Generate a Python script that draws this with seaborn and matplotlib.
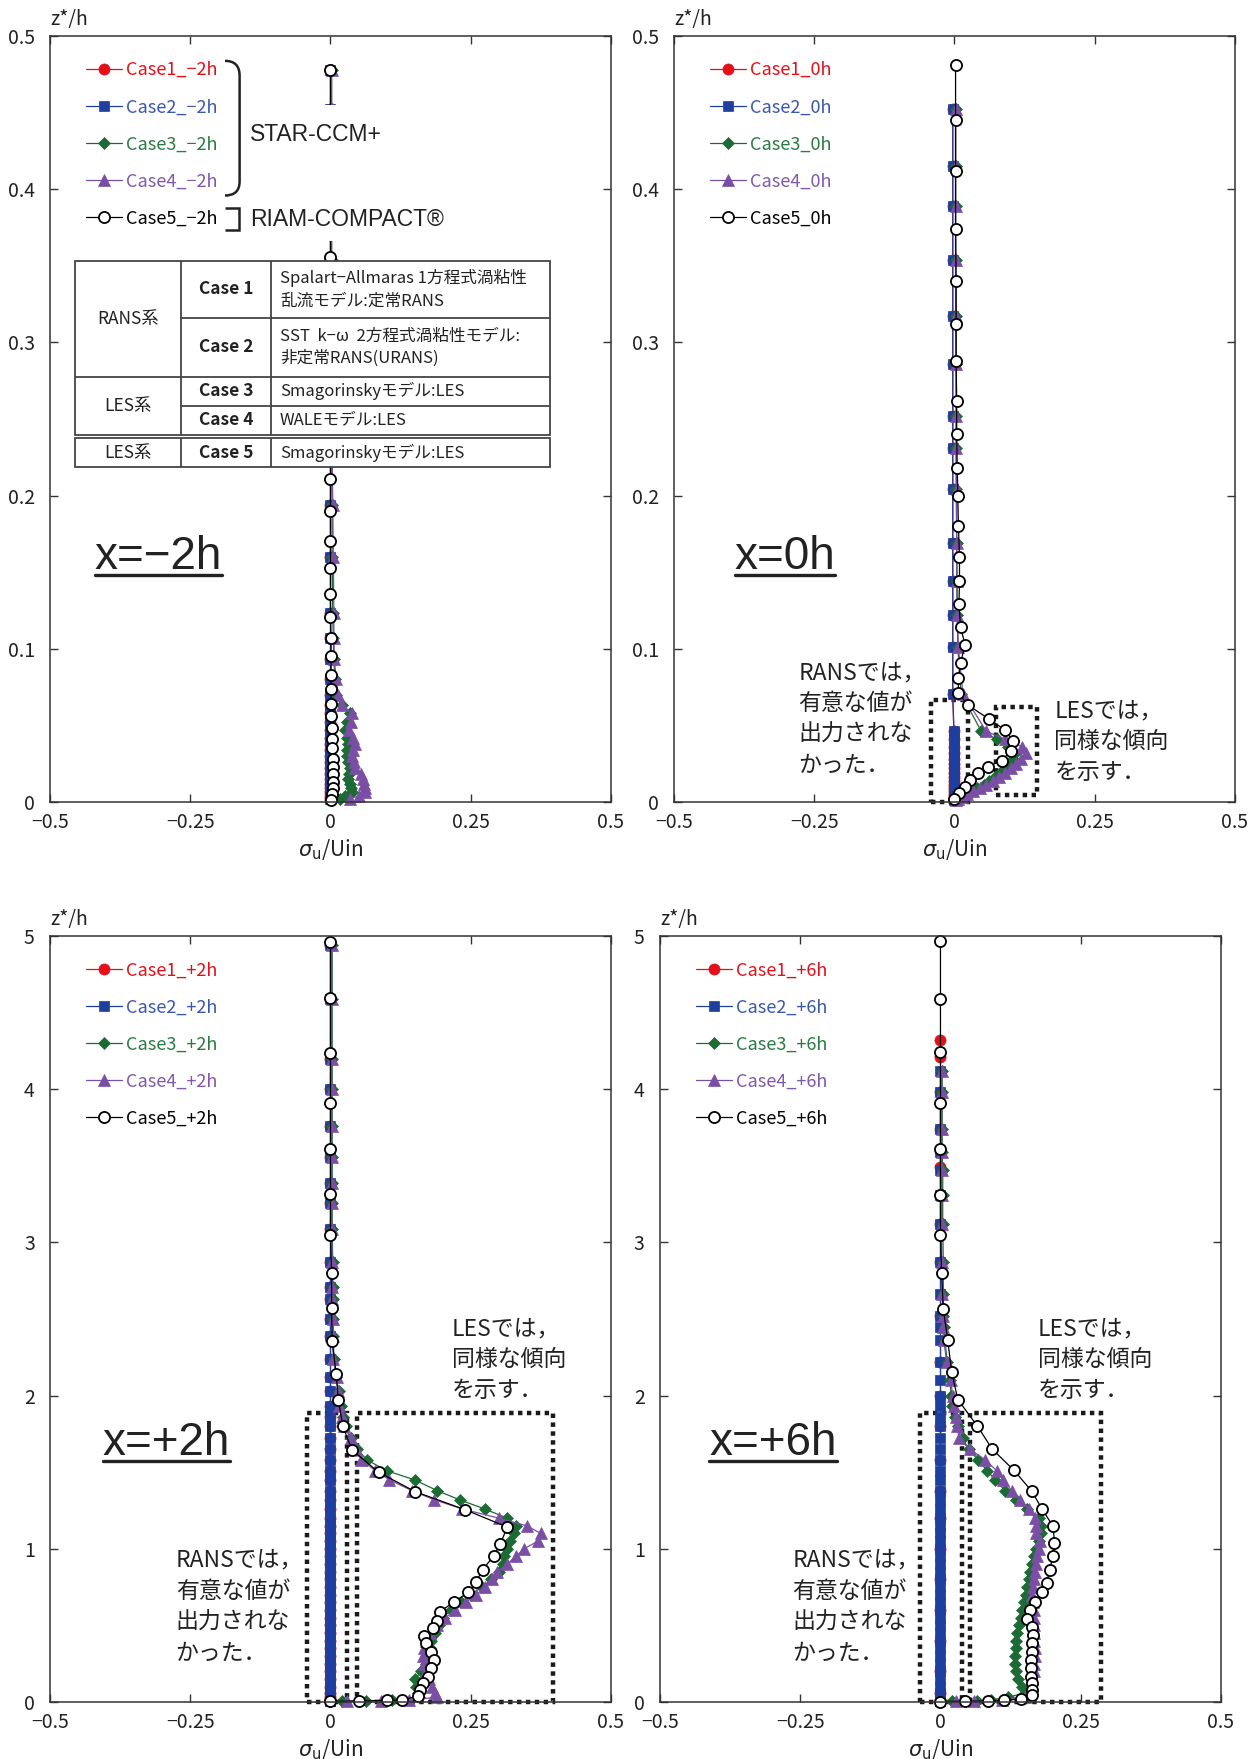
import matplotlib
matplotlib.use("Agg")
import matplotlib.pyplot as plt
import seaborn as sns
from matplotlib.lines import Line2D
from matplotlib.patches import Rectangle, PathPatch
from matplotlib.path import Path

# ---------------- x = -2h  (z*/h 0 .. 0.5) ----------------
z_star_m2 = [0.478, 0.452, 0.415, 0.389, 0.354, 0.317, 0.286, 0.252, 0.231, 0.194,
             0.16, 0.123, 0.107, 0.093, 0.08, 0.07, 0.063, 0.058, 0.052, 0.047,
             0.042, 0.038, 0.034, 0.03, 0.026, 0.022, 0.018, 0.015, 0.012, 0.009,
             0.0065, 0.004, 0.002]
c2_m2 = [0.0, 0.0, 0.0, 0.0, 0.0, 0.0, 0.0, 0.0, 0.0, 0.0,
         0.0, 0.0, 0.0, 0.0, 0.0, 0.0, 0.0, 0.0, 0.0, 0.0,
         0.0, 0.0, 0.0, 0.0, 0.0, 0.0, 0.0, 0.0, 0.0, 0.0,
         0.0, 0.0, 0.0]
c1_m2 = list(c2_m2)  # steady RANS lies under case 2
c3_m2 = [0.002, 0.002, 0.002, 0.002, 0.002, 0.002, 0.002, 0.002, 0.002, 0.003,
         0.003, 0.004, 0.005, 0.006, 0.008, 0.01, 0.02, 0.035, 0.03, 0.026,
         0.03, 0.032, 0.03, 0.029, 0.032, 0.035, 0.033, 0.032, 0.034, 0.036,
         0.038, 0.025, 0.017]
c4_m2 = [0.002, 0.002, 0.002, 0.002, 0.002, 0.002, 0.002, 0.003, 0.003, 0.004,
         0.005, 0.006, 0.006, 0.007, 0.01, 0.014, 0.02, 0.038, 0.036, 0.033,
         0.04, 0.044, 0.04, 0.038, 0.042, 0.044, 0.055, 0.058, 0.06, 0.062,
         0.062, 0.05, 0.035]
z_riam_m2 = [0.478, 0.44, 0.40, 0.356, 0.32, 0.29, 0.26, 0.235, 0.211, 0.19,
             0.17, 0.153, 0.136, 0.121, 0.107, 0.095, 0.083, 0.074, 0.064, 0.056,
             0.048, 0.041, 0.035, 0.028, 0.023, 0.018, 0.013, 0.009, 0.005, 0.001]
c5_m2 = [0.0, 0.0, 0.0, 0.0, 0.0, 0.0, 0.0, 0.0, 0.0, 0.0,
         0.0, 0.0, 0.0, 0.0, 0.001, 0.001, 0.001, 0.001, 0.001, 0.001,
         0.002, 0.003, 0.003, 0.004, 0.004, 0.005, 0.005, 0.004, 0.003, 0.001]

# ---------------- x = 0h  (z*/h 0 .. 0.5) ----------------
z_star_0 = [0.452, 0.415, 0.389, 0.354, 0.317, 0.286, 0.252, 0.231, 0.204, 0.169,
            0.144, 0.122, 0.101, 0.0705, 0.046, 0.041, 0.036, 0.032, 0.028, 0.025,
            0.022, 0.019, 0.016, 0.0135, 0.011, 0.009, 0.007, 0.005, 0.0035, 0.002,
            0.001]
c2_0 = [-0.003, -0.003, -0.003, -0.003, -0.003, -0.003, -0.003, -0.003, -0.003, -0.003,
        -0.003, -0.003, -0.003, -0.003, -0.001, -0.001, -0.001, -0.001, -0.001, -0.001,
        -0.001, -0.001, -0.001, -0.001, -0.001, -0.001, -0.001, -0.001, -0.001, -0.001,
        -0.001]
c1_0 = list(c2_0)
c3_0 = [0.002, 0.002, 0.002, 0.002, 0.002, 0.003, 0.003, 0.003, 0.003, 0.004,
        0.004, 0.005, 0.006, 0.012, 0.048, 0.075, 0.095, 0.108, 0.104, 0.10,
        0.09, 0.082, 0.073, 0.062, 0.052, 0.04, 0.03, 0.02, 0.012, 0.006,
        0.002]
c4_0 = [0.002, 0.002, 0.002, 0.002, 0.003, 0.003, 0.003, 0.003, 0.004, 0.004,
        0.005, 0.005, 0.007, 0.015, 0.057, 0.09, 0.12, 0.128, 0.118, 0.11,
        0.1, 0.09, 0.08, 0.069, 0.056, 0.045, 0.033, 0.022, 0.013, 0.007,
        0.002]
z_riam_0 = [0.481, 0.445, 0.412, 0.374, 0.34, 0.312, 0.288, 0.262, 0.24, 0.218,
            0.2, 0.18, 0.16, 0.144, 0.129, 0.114, 0.1025, 0.091, 0.081, 0.071,
            0.063, 0.054, 0.047, 0.040, 0.033, 0.027, 0.023, 0.019, 0.014, 0.010,
            0.0057, 0.0018]
c5_0 = [0.002, 0.002, 0.002, 0.002, 0.003, 0.003, 0.003, 0.004, 0.004, 0.005,
        0.006, 0.007, 0.009, 0.009, 0.008, 0.011, 0.019, 0.011, 0.007, 0.007,
        0.025, 0.062, 0.09, 0.104, 0.10, 0.084, 0.06, 0.042, 0.027, 0.018,
        0.009, 0.0]

# ---------------- x = +2h  (z*/h 0 .. 5) ----------------
z_star_2 = [4.94, 4.59, 4.2, 4.0, 3.76, 3.56, 3.39, 3.26, 3.085, 2.87,
            2.71, 2.63, 2.5, 2.39, 2.24, 2.12, 2.03, 1.93, 1.86, 1.8,
            1.72, 1.65, 1.58, 1.51, 1.45, 1.38, 1.32, 1.26, 1.2, 1.15,
            1.1, 1.05, 1.0, 0.95, 0.9, 0.85, 0.8, 0.75, 0.7, 0.65,
            0.6, 0.55, 0.5, 0.45, 0.4, 0.35, 0.3, 0.25, 0.2, 0.15,
            0.1, 0.06, 0.03, 0.015, 0.008, 0.004]
c2_2 = [0.0, 0.0, 0.0, 0.0, 0.0, 0.0, 0.0, 0.0, 0.0, 0.0,
        0.0, 0.0, 0.0, 0.0, 0.0, 0.0, 0.0, 0.0, 0.0, 0.0,
        0.0, 0.0, 0.0, 0.0, 0.0, 0.0, 0.0, 0.0, 0.0, 0.0,
        0.0, 0.0, 0.0, 0.0, 0.0, 0.0, 0.0, 0.0, 0.0, 0.0,
        0.0, 0.0, 0.0, 0.0, 0.0, 0.0, 0.0, 0.0, 0.0, 0.0,
        0.0, 0.0, 0.0, 0.0, 0.0, 0.0]
c1_2 = list(c2_2)
c3_2 = [0.003, 0.003, 0.003, 0.003, 0.003, 0.003, 0.003, 0.003, 0.003, 0.004,
        0.004, 0.004, 0.005, 0.005, 0.006, 0.01, 0.015, 0.018, 0.022, 0.028,
        0.036, 0.048, 0.065, 0.1, 0.15, 0.19, 0.23, 0.275, 0.315, 0.33,
        0.328, 0.32, 0.315, 0.31, 0.307, 0.3, 0.287, 0.27, 0.25, 0.232,
        0.215, 0.2, 0.193, 0.187, 0.18, 0.177, 0.174, 0.17, 0.162, 0.15,
        0.153, 0.156, 0.158, 0.11, 0.064, 0.02]
c4_2 = [0.002, 0.002, 0.002, 0.002, 0.002, 0.002, 0.002, 0.002, 0.002, 0.003,
        0.003, 0.003, 0.004, 0.004, 0.005, 0.011, 0.013, 0.015, 0.02, 0.024,
        0.036, 0.045, 0.055, 0.08, 0.105, 0.145, 0.185, 0.235, 0.3, 0.35,
        0.375, 0.37, 0.345, 0.33, 0.315, 0.297, 0.288, 0.275, 0.26, 0.241,
        0.222, 0.205, 0.19, 0.178, 0.171, 0.167, 0.165, 0.166, 0.17, 0.175,
        0.181, 0.186, 0.19, 0.14, 0.09, 0.03]
z_riam_2 = [4.963, 4.595, 4.235, 3.913, 3.608, 3.314, 3.046, 2.80, 2.569, 2.355,
            2.144, 1.974, 1.80, 1.647, 1.499, 1.373, 1.255, 1.142, 1.033, 0.954,
            0.863, 0.786, 0.717, 0.652, 0.59, 0.53, 0.481, 0.431, 0.385, 0.329,
            0.275, 0.22, 0.165, 0.122, 0.078, 0.039, 0.013, 0.01, 0.007, 0.004]
c5_2 = [0.0, 0.0, 0.0, 0.0, 0.0, 0.0, 0.0, 0.002, 0.002, 0.003,
        0.01, 0.014, 0.022, 0.038, 0.086, 0.151, 0.24, 0.315, 0.303, 0.291,
        0.271, 0.26, 0.246, 0.22, 0.195, 0.19, 0.183, 0.167, 0.17, 0.18,
        0.184, 0.18, 0.174, 0.165, 0.159, 0.156, 0.127, 0.1, 0.051, 0.0]

# ---------------- x = +6h  (z*/h 0 .. 5) ----------------
z_star_6 = [4.12, 3.98, 3.74, 3.59, 3.47, 3.31, 3.12, 2.87, 2.66, 2.52,
            2.45, 2.36, 2.22, 2.1, 2.0, 1.93, 1.86, 1.8, 1.72, 1.65,
            1.58, 1.51, 1.45, 1.38, 1.32, 1.26, 1.2, 1.15, 1.1, 1.05,
            1.0, 0.95, 0.9, 0.85, 0.8, 0.75, 0.7, 0.65, 0.6, 0.55,
            0.5, 0.45, 0.4, 0.35, 0.3, 0.25, 0.2, 0.15, 0.1, 0.06,
            0.03, 0.015, 0.008, 0.004]
c2_6 = [0.0, 0.0, 0.0, 0.0, 0.0, 0.0, 0.0, 0.0, 0.0, 0.0,
        0.0, 0.0, 0.0, 0.0, 0.0, 0.0, 0.0, 0.0, 0.0, 0.0,
        0.0, 0.0, 0.0, 0.0, 0.0, 0.0, 0.0, 0.0, 0.0, 0.0,
        0.0, 0.0, 0.0, 0.0, 0.0, 0.0, 0.0, 0.0, 0.0, 0.0,
        0.0, 0.0, 0.0, 0.0, 0.0, 0.0, 0.0, 0.0, 0.0, 0.0,
        0.0, 0.0, 0.0, 0.0]
z_c1_6 = [4.32, 4.21, 3.98, 3.74, 3.49, 3.31, 3.12, 2.87, 2.52, 2.22,
          2.0, 1.8, 1.58, 1.38, 1.2, 1.0, 0.8, 0.6, 0.4, 0.2,
          0.06, 0.015]
c1_6 = [0.0, 0.0, 0.0, 0.0, 0.0, 0.0, 0.0, 0.0, 0.0, 0.0,
        0.0, 0.0, 0.0, 0.0, 0.0, 0.0, 0.0, 0.0, 0.0, 0.0,
        0.0, 0.0]
c3_6 = [0.003, 0.003, 0.003, 0.003, 0.004, 0.004, 0.004, 0.005, 0.005, 0.005,
        0.006, 0.008, 0.012, 0.017, 0.019, 0.021, 0.026, 0.032, 0.04, 0.05,
        0.067, 0.083, 0.098, 0.115, 0.134, 0.155, 0.175, 0.18, 0.179, 0.175,
        0.17, 0.166, 0.163, 0.16, 0.157, 0.155, 0.153, 0.149, 0.146, 0.143,
        0.14, 0.137, 0.135, 0.134, 0.133, 0.132, 0.134, 0.139, 0.146, 0.15,
        0.12, 0.09, 0.065, 0.02]
c4_6 = [0.002, 0.002, 0.002, 0.002, 0.002, 0.002, 0.002, 0.002, 0.003, 0.004,
        0.004, 0.006, 0.011, 0.018, 0.022, 0.024, 0.027, 0.03, 0.033, 0.052,
        0.08, 0.1, 0.112, 0.127, 0.142, 0.158, 0.168, 0.17, 0.17, 0.177,
        0.176, 0.172, 0.17, 0.168, 0.167, 0.165, 0.164, 0.165, 0.166, 0.167,
        0.167, 0.167, 0.167, 0.168, 0.168, 0.167, 0.166, 0.164, 0.161, 0.158,
        0.15, 0.11, 0.06, 0.028]
z_riam_6 = [4.97, 4.59, 4.24, 3.91, 3.61, 3.31, 3.05, 2.80, 2.567, 2.36,
            2.152, 1.974, 1.80, 1.652, 1.512, 1.375, 1.259, 1.146, 1.041, 0.954,
            0.863, 0.78, 0.721, 0.656, 0.6, 0.54, 0.492, 0.438, 0.384, 0.329,
            0.275, 0.22, 0.165, 0.122, 0.078, 0.045, 0.02, 0.01, 0.007, 0.005,
            0.003]
c5_6 = [0.0, 0.0, 0.0, 0.0, 0.0, 0.0, 0.0, 0.002, 0.005, 0.013,
        0.02, 0.031, 0.066, 0.092, 0.131, 0.163, 0.181, 0.201, 0.203, 0.2,
        0.195, 0.189, 0.181, 0.169, 0.16, 0.155, 0.164, 0.165, 0.164, 0.163,
        0.162, 0.161, 0.161, 0.163, 0.164, 0.164, 0.143, 0.113, 0.085, 0.043,
        0.0]

x_ticks = [-0.5, -0.25, 0, 0.25, 0.5]
x_tick_labels = ["\u22120.5", "\u22120.25", "0", "0.25", "0.5"]
y_ticks_small = [0, 0.1, 0.2, 0.3, 0.4, 0.5]
y_labels_small = ["0", "0.1", "0.2", "0.3", "0.4", "0.5"]
y_ticks_big = [0, 1, 2, 3, 4, 5]
y_labels_big = ["0", "1", "2", "3", "4", "5"]

table_rows = [
    ("Case 1", ["Spalart\u2212Allmaras 1方程式渦粘性", "乱流モデル:定常RANS"]),
    ("Case 2", ["SST  k\u2212ω  2方程式渦粘性モデル:", "非定常RANS(URANS)"]),
    ("Case 3", ["Smagorinskyモデル:LES"]),
    ("Case 4", ["WALEモデル:LES"]),
    ("Case 5", ["Smagorinskyモデル:LES"]),
]

RANS_NOTE = "RANSでは，\n有意な値が\n出力されな\nかった．"
LES_NOTE = "LESでは，\n同様な傾向\nを示す．"

RED = "#e60f19"
BLUE = "#1f3f9e"
GREEN = "#1c6b34"
PURPLE = "#7b4ea6"
INK = "#222222"
LABEL_COLORS = [RED, "#3a58ad", "#2a7a44", "#8058ad", "black"]

STYLES = [
    dict(color=RED, marker="o", markersize=8, markerfacecolor=RED,
         markeredgecolor=RED, markeredgewidth=0.5),
    dict(color=BLUE, marker="s", markersize=7, markerfacecolor=BLUE,
         markeredgecolor=BLUE, markeredgewidth=0.5),
    dict(color=GREEN, marker="D", markersize=6.5, markerfacecolor=GREEN,
         markeredgecolor=GREEN, markeredgewidth=0.5),
    dict(color=PURPLE, marker="^", markersize=9, markerfacecolor=PURPLE,
         markeredgecolor=PURPLE, markeredgewidth=0.5),
    dict(color="black", marker="o", markersize=8, markerfacecolor="white",
         markeredgecolor="black", markeredgewidth=1.3),
]

sns.set_style("ticks")
plt.rcParams["font.family"] = ["Noto Sans CJK JP", "DejaVu Sans"]
plt.rcParams["axes.unicode_minus"] = True
plt.rcParams["mathtext.fontset"] = "dejavusans"

fig = plt.figure(figsize=(12.59, 17.59), dpi=100)
ax_m2 = fig.add_axes([0.0397, 0.5441, 0.4456, 0.4355])
ax_0 = fig.add_axes([0.5353, 0.5441, 0.4456, 0.4355])
ax_2 = fig.add_axes([0.0397, 0.0324, 0.4456, 0.4355])
ax_6 = fig.add_axes([0.5242, 0.0324, 0.4456, 0.4355])


def plot_profiles(ax, series, tag):
    handles = []
    for i, (xv, zv) in enumerate(series):
        sns.lineplot(x=xv, y=zv, orient="y", sort=False, estimator=None,
                     ax=ax, legend=False, linewidth=0.9, clip_on=False,
                     **STYLES[i])
        handles.append(ax.lines[-1])
    labels = [f"Case{i + 1}_{tag}" for i in range(5)]
    ax.legend(handles, labels, loc="upper left", bbox_to_anchor=(0.064, 0.967),
              frameon=False, borderpad=0, borderaxespad=0, handlelength=2.0,
              handletextpad=0.2, labelspacing=1.06, fontsize=13,
              labelcolor=LABEL_COLORS)


def style_axes(ax, ymax, yticks, ylabels):
    ax.set_xlim(-0.5, 0.5)
    ax.set_ylim(0, ymax)
    ax.set_xticks(x_ticks)
    ax.set_xticklabels(x_tick_labels)
    ax.set_yticks(yticks)
    ax.set_yticklabels(ylabels)
    ax.tick_params(direction="in", top=True, right=True, length=6, width=1,
                   color="#333333", labelcolor=INK, labelsize=14)
    ax.tick_params(axis="x", pad=7)
    ax.tick_params(axis="y", pad=11)
    for s in ax.spines.values():
        s.set_linewidth(1.1)
        s.set_color("#333333")
    ax.set_xlabel(r"$\sigma_{\mathrm{u}}$/Uin", fontsize=15, labelpad=3, color=INK)
    ax.set_ylabel("")
    ax.text(0.0, 1.008, "z*/h", transform=ax.transAxes, fontsize=14,
            ha="left", va="bottom", color=INK)


def dotted_box(ax, x0, x1, y0, y1):
    ax.add_patch(Rectangle((x0, y0), x1 - x0, y1 - y0, fill=False,
                           ec="#1a1a1a", lw=3.2, ls=(0, (1, 1)),
                           zorder=1.8, clip_on=False))


def note(ax, x, y, s):
    ax.text(x, y, s, fontsize=16.5, ha="left", va="top", color=INK,
            linespacing=1.44, zorder=6)


big_labels = []


def big_label(ax, x, y, s):
    t = ax.text(x, y, s, fontsize=33, family=["Liberation Sans", "DejaVu Sans"],
                ha="left", va="baseline", color=INK, zorder=6)
    big_labels.append((ax, t, y))


def draw_table(ax):
    xa, xb, xc, xd = -0.455, -0.266, -0.106, 0.392
    ya, yb, yc, yd, ye = 0.3533, 0.3157, 0.2776, 0.2587, 0.2396
    yf, yg = 0.2374, 0.2185
    lk = dict(color="#444444", lw=1.3, zorder=4.5)
    ax.add_patch(Rectangle((xa, yg), xd - xa, ya - yg, fc="white", ec="none",
                           zorder=4))
    for y0, y1 in [(ye, ya), (yg, yf)]:
        ax.add_patch(Rectangle((xa, y0), xd - xa, y1 - y0, fill=False,
                               ec="#444444", lw=1.3, zorder=4.5))
        ax.vlines([xb, xc], y0, y1, **lk)
    ax.hlines(yc, xa, xd, **lk)
    ax.hlines([yb, yd], xb, xd, **lk)
    cx1 = (xa + xb) / 2
    cx2 = (xb + xc) / 2
    tx = dict(fontsize=12.5, ha="center", va="center", color=INK, zorder=5)
    ax.text(cx1, (ya + yc) / 2, "RANS系", **tx)
    ax.text(cx1, (yc + ye) / 2, "LES系", **tx)
    ax.text(cx1, (yf + yg) / 2, "LES系", **tx)
    bounds = [(ya, yb), (yb, yc), (yc, yd), (yd, ye), (yf, yg)]
    for (case, desc), (top, bot) in zip(table_rows, bounds):
        ax.text(cx2, (top + bot) / 2, case, fontsize=12.5, fontweight="bold",
                ha="center", va="center", color=INK, zorder=5)
        ax.text(xc + 0.016, (top + bot) / 2, "\n".join(desc), fontsize=12,
                ha="left", va="center", color=INK, linespacing=1.4, zorder=5)


def draw_brackets(ax):
    pk = dict(fill=False, ec=INK, lw=1.8, zorder=5)
    star = Path([(-0.188, 0.4837), (-0.162, 0.4837), (-0.162, 0.474),
                 (-0.162, 0.405), (-0.162, 0.3958), (-0.188, 0.3958)],
                [Path.MOVETO, Path.CURVE3, Path.CURVE3, Path.LINETO,
                 Path.CURVE3, Path.CURVE3])
    ax.add_patch(PathPatch(star, **pk))
    riam = Path([(-0.188, 0.3875), (-0.163, 0.3875), (-0.163, 0.3734),
                 (-0.188, 0.3734)],
                [Path.MOVETO, Path.LINETO, Path.LINETO, Path.LINETO])
    ax.add_patch(PathPatch(riam, **pk))
    # white backing behind the solver names hides the profile lines there
    ax.add_patch(Rectangle((-0.155, 0.366), 0.365, 0.089, fc="white",
                           ec="none", zorder=3))
    fam = ["Liberation Sans", "DejaVu Sans"]
    ax.text(-0.1435, 0.4354, "STAR-CCM+", fontsize=16.5, family=fam,
            ha="left", va="center", color=INK, zorder=5)
    ax.text(-0.1435, 0.3799, "RIAM-COMPACT®", fontsize=16.5, family=fam,
            ha="left", va="center", color=INK, zorder=5)


# x = -2h
plot_profiles(ax_m2, [(c1_m2, z_star_m2), (c2_m2, z_star_m2), (c3_m2, z_star_m2),
                      (c4_m2, z_star_m2), (c5_m2, z_riam_m2)], "\u22122h")
style_axes(ax_m2, 0.5, y_ticks_small, y_labels_small)
draw_brackets(ax_m2)
draw_table(ax_m2)
big_label(ax_m2, -0.42, 0.152, "x=\u22122h")

# x = 0h
plot_profiles(ax_0, [(c1_0, z_star_0), (c2_0, z_star_0), (c3_0, z_star_0),
                     (c4_0, z_star_0), (c5_0, z_riam_0)], "0h")
style_axes(ax_0, 0.5, y_ticks_small, y_labels_small)
dotted_box(ax_0, -0.042, 0.024, 0.0, 0.0666)
dotted_box(ax_0, 0.074, 0.147, 0.0046, 0.0622)
note(ax_0, -0.278, 0.092, RANS_NOTE)
note(ax_0, 0.178, 0.067, LES_NOTE)
big_label(ax_0, -0.392, 0.152, "x=0h")

# x = +2h
plot_profiles(ax_2, [(c1_2, z_star_2), (c2_2, z_star_2), (c3_2, z_star_2),
                     (c4_2, z_star_2), (c5_2, z_riam_2)], "+2h")
style_axes(ax_2, 5, y_ticks_big, y_labels_big)
dotted_box(ax_2, -0.041, 0.029, 0.0, 1.887)
dotted_box(ax_2, 0.047, 0.397, 0.0, 1.887)
note(ax_2, 0.216, 2.513, LES_NOTE)
note(ax_2, -0.276, 1.0, RANS_NOTE)
big_label(ax_2, -0.406, 1.613, "x=+2h")

# x = +6h
plot_profiles(ax_6, [(c1_6, z_c1_6), (c2_6, z_star_6), (c3_6, z_star_6),
                     (c4_6, z_star_6), (c5_6, z_riam_6)], "+6h")
style_axes(ax_6, 5, y_ticks_big, y_labels_big)
dotted_box(ax_6, -0.037, 0.0386, 0.0, 1.887)
dotted_box(ax_6, 0.0535, 0.286, 0.0, 1.887)
note(ax_6, 0.174, 2.513, LES_NOTE)
note(ax_6, -0.264, 1.0, RANS_NOTE)
big_label(ax_6, -0.412, 1.613, "x=+6h")

# underline the station labels
fig.canvas.draw()
renderer = fig.canvas.get_renderer()
to_fig = fig.transFigure.inverted()
for ax, t, ybase in big_labels:
    bb = t.get_window_extent(renderer)
    base_px = ax.transData.transform((0, ybase))[1] - 6
    (fx0, fy), (fx1, _) = to_fig.transform([(bb.x0, base_px), (bb.x1, base_px)])
    fig.add_artist(Line2D([fx0, fx1], [fy, fy], transform=fig.transFigure,
                          color=INK, lw=2.4))

fig.savefig("out.png", dpi=100)
